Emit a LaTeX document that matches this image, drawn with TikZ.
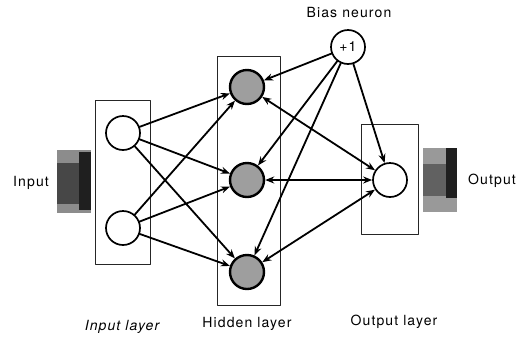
\documentclass[tikz,border=0pt]{standalone}
\usepackage{fontspec}
\setmainfont{TeX Gyre Heros}[LetterSpace=8]
\usepackage{tikz}
\usetikzlibrary{arrows.meta}
\tikzstyle{unit} = [circle,draw,line width=1.7pt,minimum size=34pt,inner sep=0pt,fill=white]
\tikzstyle{hunit} = [unit,line width=2.4pt,fill=black!38]
\tikzstyle{frame} = [line width=0.8pt,draw=black!85]
\tikzstyle{arrow} = [line width=1.8pt,-{Stealth[length=9pt,width=7pt]}]
\tikzstyle{darrow} = [line width=1.8pt,{Stealth[length=9pt,width=7pt]}-{Stealth[length=9pt,width=7pt]}]
\tikzstyle{lbl} = [font=\fontsize{14}{16}\selectfont]

\begin{document}
\begin{tikzpicture}[line cap=round,line join=round,x=1pt,y=-1pt]
                \useasboundingbox (0,0) rectangle (521,338);
                % layer frames
                \draw [frame] (95,100) rectangle (150,264);
                \draw [frame] (217,56) rectangle (280,305);
                \draw [frame] (361,124) rectangle (418,234);
                % input pattern
                \fill [black!45] (57,150) rectangle (91,213);
                \fill [black!72] (57,163) rectangle (91,204);
                \fill [black!88] (79,152) rectangle (91,210);
                % output pattern
                \fill [black!40] (423,148) rectangle (457,212);
                \fill [black!62] (423,164) rectangle (446,196);
                \fill [black!88] (446,148) rectangle (457,198);
                % units
                \node [unit] (i1) at (123,133) {};
                \node [unit] (i2) at (123,228) {};
                \node [hunit] (h1) at (247,87) {};
                \node [hunit] (h2) at (247,180) {};
                \node [hunit] (h3) at (247,272) {};
                \node [unit,lbl] (b) at (348,47) {+1};
                \node [unit] (o) at (390,180) {};
                % connections
                \draw [arrow] (i1) -- (h1);
                \draw [arrow] (i1) -- (h2);
                \draw [arrow] (i1) -- (h3);
                \draw [arrow] (i2) -- (h1);
                \draw [arrow] (i2) -- (h2);
                \draw [arrow] (i2) -- (h3);
                \draw [arrow] (b) -- (h1);
                \draw [arrow] (b) -- (h2);
                \draw [arrow] (b) -- (h3);
                \draw [arrow] (b) -- (o);
                \draw [darrow] (h1) -- (o);
                \draw [darrow] (h2) -- (o);
                \draw [darrow] (h3) -- (o);
                % labels
                \node [lbl] (tbias) at (349,12) {Bias neuron};
                \node [lbl] (tin) at (31,183) {Input};
                \node [lbl] (tout) at (492,181) {Output};
                \node [lbl,font=\fontsize{14}{16}\selectfont\itshape] (tinl) at (122,327) {Input layer};
                \node [lbl] (thid) at (247,324) {Hidden layer};
                \node [lbl] (toutl) at (394,322) {Output layer};
\end{tikzpicture}
\end{document}
